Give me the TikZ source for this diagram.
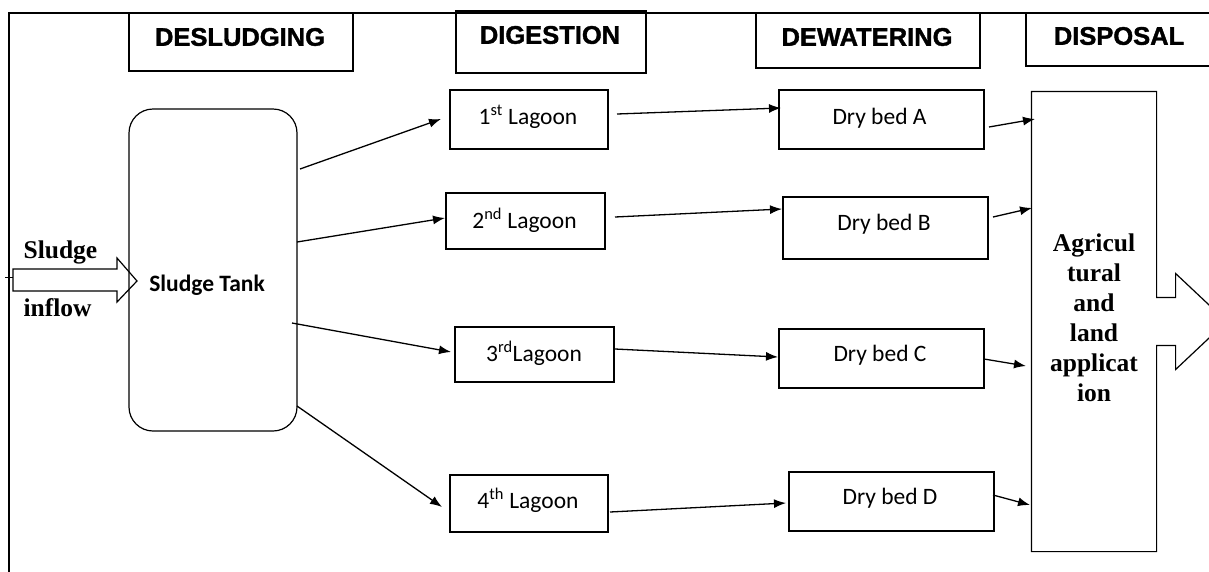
\documentclass[tikz,border=0pt]{standalone}
\usepackage{fontspec}
\setmainfont{Liberation Serif}
\newfontfamily\calfont{Carlito}
\newfontfamily\hdfont[FakeBold=1.5]{Liberation Sans Bold}
\usetikzlibrary{arrows.meta,calc}
\begin{document}
\begin{tikzpicture}[x=1pt,y=-1pt,line width=1.2pt,
  hdrbox/.style={draw,rectangle,inner sep=0pt},
  hdrtxt/.style={inner sep=0pt,font=\hdfont\fontsize{25.5}{30}\selectfont},
  pbox/.style={draw,rectangle,inner sep=0pt},
  ptxt/.style={inner sep=0pt,font=\calfont\fontsize{23.5}{28}\selectfont},
  stxt/.style={inner sep=0pt,font=\bfseries\fontsize{25.5}{30}\selectfont},
  arr/.style={line width=1.3pt,-{Latex[length=12pt,width=9pt]}}]
\useasboundingbox (0,0) rectangle (1209,571);
\clip (0,0) rectangle (1209,571);
% frame
\draw (1215,13) -- (9,13) -- (9,575);
% headers
\node[hdrbox,minimum width=224,minimum height=58] (hdes) at (241,42) {};
\node[hdrtxt] at (240,37) {DESLUDGING};
\node[hdrbox,minimum width=190,minimum height=62] (hdig) at (551,42) {};
\node[hdrtxt] at (550,35) {DIGESTION};
\node[hdrbox,minimum width=224,minimum height=55] (hdew) at (868,40.5) {};
\node[hdrtxt] at (867,37) {DEWATERING};
\node[hdrbox,minimum width=199,minimum height=53] (hdis) at (1125.5,39.5) {};
\node[hdrtxt] at (1119,36) {DISPOSAL};
% sludge tank
\node[draw,rectangle,rounded corners=24pt,minimum width=168,minimum height=322] (tank) at (213,270) {};
\node[inner sep=0pt,font=\calfont\bfseries\fontsize{23.5}{28}\selectfont] (tanklbl) at (207,285) {Sludge Tank};
% inflow arrow
\draw (13,269) -- (117,269) -- (117,258) -- (137,281) -- (117,302) -- (117,291) -- (13,291) -- cycle;
\draw[line width=1pt] (5,277) -- (13,277);
\node[stxt,anchor=west] (sl1) at (23,252) {Sludge};
\node[stxt,anchor=west] (sl2) at (23,308) {inflow};
% lagoons
\node[pbox,minimum width=158,minimum height=59] (l1) at (529,119.5) {};
\node[ptxt] at (528,117) {1\textsuperscript{st} Lagoon};
\node[pbox,minimum width=159,minimum height=56] (l2) at (525.5,221) {};
\node[ptxt] at (524.5,220) {2\textsuperscript{nd} Lagoon};
\node[pbox,minimum width=159,minimum height=55] (l3) at (534.5,354.5) {};
\node[ptxt] at (534,353) {3\textsuperscript{rd}Lagoon};
\node[pbox,minimum width=158,minimum height=57] (l4) at (529,503.5) {};
\node[ptxt] at (528,500) {4\textsuperscript{th} Lagoon};
% dry beds
\node[pbox,minimum width=205,minimum height=59] (dA) at (881.5,119.5) {};
\node[ptxt] at (879.5,118) {Dry bed A};
\node[pbox,minimum width=205,minimum height=62] (dB) at (885.5,228) {};
\node[ptxt] at (884,224) {Dry bed B};
\node[pbox,minimum width=205,minimum height=59] (dC) at (881.5,358.5) {};
\node[ptxt] at (880,355) {Dry bed C};
\node[pbox,minimum width=205,minimum height=59] (dD) at (891.5,501.5) {};
\node[ptxt] at (890,498) {Dry bed D};
% agricultural box
\node[inner sep=0pt,minimum width=124,minimum height=459] (agr) at (1094,321.5) {};
\node[stxt,align=center] at (1094,318) {Agricul\\tural\\and\\land\\applicat\\ion};
\draw (agr.north west) -- (agr.north east) -- ($(agr.east)+(0,-24)$) -- ($(agr.east)+(19,-24)$)
  -- ($(agr.east)+(19,-48)$) -- ($(agr.east)+(70,0)$) -- ($(agr.east)+(19,48)$)
  -- ($(agr.east)+(19,24)$) -- ($(agr.east)+(0,24)$) -- (agr.south east) -- (agr.south west) -- cycle;
% connector end points
\coordinate (t1) at (300,169); \coordinate (t1e) at (441,119);
\coordinate (t2) at (297,242); \coordinate (t2e) at (445,218);
\coordinate (t3) at (292,323); \coordinate (t3e) at (451,352);
\coordinate (t4) at (297,406); \coordinate (t4e) at (442,507);
\coordinate (a1) at (617,114); \coordinate (a1e) at (781,108);
\coordinate (a2) at (615,217); \coordinate (a2e) at (782,209);
\coordinate (a3) at (615,349); \coordinate (a3e) at (778,357);
\coordinate (a4) at (610,512); \coordinate (a4e) at (786,503);
\coordinate (b1) at (989,127); \coordinate (b1e) at (1035,119);
\coordinate (b2) at (993,217); \coordinate (b2e) at (1032,208);
\coordinate (b3) at (984,359); \coordinate (b3e) at (1026,366);
\coordinate (b4) at (993,495); \coordinate (b4e) at (1030,505);
\draw[arr] (t1) -- (t1e);
\draw[arr] (t2) -- (t2e);
\draw[arr] (t3) -- (t3e);
\draw[arr] (t4) -- (t4e);
\draw[arr] (a1) -- (a1e);
\draw[arr] (a2) -- (a2e);
\draw[arr] (a3) -- (a3e);
\draw[arr] (a4) -- (a4e);
\draw[arr] (b1) -- (b1e);
\draw[arr] (b2) -- (b2e);
\draw[arr] (b3) -- (b3e);
\draw[arr] (b4) -- (b4e);
\end{tikzpicture}
\end{document}
